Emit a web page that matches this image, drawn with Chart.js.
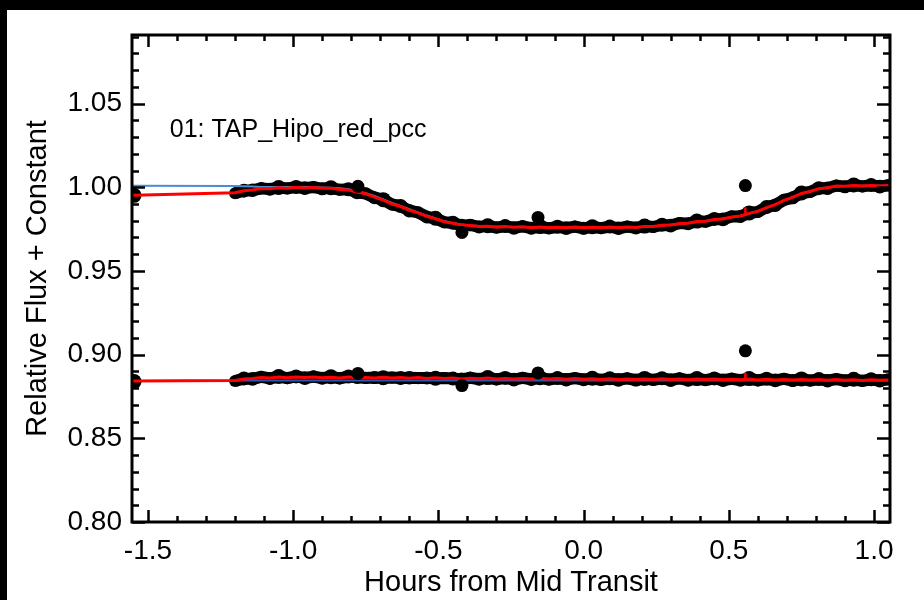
<!DOCTYPE html>
<html>
<head>
<meta charset="utf-8">
<script src="https://cdn.jsdelivr.net/npm/chart.js@4/dist/chart.umd.min.js"></script>
<style>
  body { margin: 0; background: #000; }
  canvas { display: block; }
</style>
</head>
<body>
<canvas id="transitChart" width="924" height="600"></canvas>
<script>
// hours from mid transit (two early frames, then the main run)
const hours = [-1.555, -1.548,
  -1.20, -1.17, -1.14, -1.11, -1.08, -1.05, -1.02, -0.99, -0.96, -0.93, -0.90,
  -0.87, -0.84, -0.81, -0.78, -0.75, -0.72, -0.69, -0.66, -0.63, -0.60,
  -0.57, -0.54, -0.51, -0.48, -0.45, -0.42, -0.39, -0.36, -0.33, -0.30,
  -0.27, -0.24, -0.21, -0.18, -0.15, -0.12, -0.09, -0.06, -0.03, 0.00,
  0.03, 0.06, 0.09, 0.12, 0.15, 0.18, 0.21, 0.24, 0.27, 0.30,
  0.33, 0.36, 0.39, 0.42, 0.45, 0.48, 0.51, 0.54, 0.57, 0.60,
  0.63, 0.66, 0.69, 0.72, 0.75, 0.78, 0.81, 0.84, 0.87, 0.90,
  0.93, 0.96, 0.99, 1.02, 1.05];

// light curve (top) - observed flux
const fluxTop = [0.9948, 0.9952,
  0.9964, 0.9980, 0.9982, 0.9994, 0.9989, 0.9999, 0.9993, 1.0002, 0.9995, 1.0001, 0.9991,
  0.9997, 0.9985, 0.9988, 0.9969, 0.9963, 0.9938, 0.9926, 0.9897, 0.9888, 0.9860,
  0.9850, 0.9823, 0.9815, 0.9791, 0.9788, 0.9771, 0.9775, 0.9763, 0.9770, 0.9759,
  0.9768, 0.9757, 0.9767, 0.9756, 0.9765, 0.9755, 0.9764, 0.9756, 0.9765, 0.9755,
  0.9764, 0.9756, 0.9765, 0.9755, 0.9765, 0.9757, 0.9768, 0.9763, 0.9776, 0.9771,
  0.9786, 0.9782, 0.9798, 0.9794, 0.9811, 0.9808, 0.9826, 0.9826, 0.9847, 0.9853,
  0.9882, 0.9893, 0.9925, 0.9937, 0.9966, 0.9972, 0.9995, 0.9994, 1.0010, 1.0003,
  1.0014, 1.0005, 1.0013, 1.0004, 1.0012];

// red fit incl. systematics (top)
const fitTop = [0.9953, 0.9953,
  0.9968, 0.9979, 0.9984, 0.9992, 0.9991, 0.9997, 0.9995, 1.0000, 0.9996, 0.9999, 0.9994,
  0.9994, 0.9987, 0.9984, 0.9971, 0.9961, 0.9941, 0.9923, 0.9900, 0.9885, 0.9863,
  0.9847, 0.9826, 0.9812, 0.9794, 0.9785, 0.9774, 0.9772, 0.9766, 0.9767, 0.9762,
  0.9765, 0.9761, 0.9764, 0.9759, 0.9763, 0.9758, 0.9761, 0.9759, 0.9762, 0.9758,
  0.9761, 0.9759, 0.9762, 0.9758, 0.9762, 0.9760, 0.9765, 0.9766, 0.9773, 0.9774,
  0.9783, 0.9785, 0.9795, 0.9797, 0.9808, 0.9811, 0.9823, 0.9829, 0.9844, 0.9856,
  0.9879, 0.9896, 0.9922, 0.9940, 0.9963, 0.9975, 0.9992, 0.9997, 1.0007, 1.0006,
  1.0011, 1.0008, 1.0010, 1.0007, 1.0010];

// blue transit model (top)
const modelTop = [1.0009, 1.0009,
  1.0008, 1.0006, 1.0004, 1.0002, 1.0001, 1.0001, 1.0001, 1.0001, 1.0001, 1.0000, 0.9999,
  0.9998, 0.9994, 0.9988, 0.9978, 0.9965, 0.9948, 0.9928, 0.9907, 0.9888, 0.9869,
  0.9850, 0.9831, 0.9814, 0.9798, 0.9786, 0.9777, 0.9771, 0.9768, 0.9766, 0.9764,
  0.9763, 0.9762, 0.9762, 0.9761, 0.9761, 0.9760, 0.9760, 0.9760, 0.9760, 0.9760,
  0.9760, 0.9760, 0.9760, 0.9760, 0.9761, 0.9762, 0.9764, 0.9767, 0.9771, 0.9776,
  0.9781, 0.9787, 0.9793, 0.9799, 0.9806, 0.9813, 0.9821, 0.9830, 0.9842, 0.9858,
  0.9877, 0.9898, 0.9920, 0.9942, 0.9961, 0.9977, 0.9990, 0.9999, 1.0005, 1.0008,
  1.0009, 1.0009, 1.0009, 1.0009, 1.0009];

// residual curve (bottom, offset) - observed flux
const fluxLow = [0.8836, 0.8839,
  0.8842, 0.8857, 0.8855, 0.8867, 0.8858, 0.8869, 0.8859, 0.8870, 0.8860, 0.8869, 0.8859,
  0.8868, 0.8858, 0.8869, 0.8865, 0.8861, 0.8863, 0.8862, 0.8863, 0.8860, 0.8862,
  0.8860, 0.8861, 0.8859, 0.8860, 0.8857, 0.8852, 0.8862, 0.8853, 0.8863, 0.8852,
  0.8861, 0.8851, 0.8861, 0.8852, 0.8862, 0.8851, 0.8860, 0.8850, 0.8860, 0.8850,
  0.8859, 0.8849, 0.8859, 0.8849, 0.8858, 0.8848, 0.8858, 0.8849, 0.8859, 0.8848,
  0.8858, 0.8847, 0.8857, 0.8848, 0.8858, 0.8847, 0.8856, 0.8847, 0.8857, 0.8846,
  0.8856, 0.8846, 0.8855, 0.8845, 0.8855, 0.8845, 0.8854, 0.8844, 0.8854, 0.8844,
  0.8853, 0.8843, 0.8853, 0.8844, 0.8852];

const fitLow = [0.8843, 0.8843,
  0.8846, 0.8854, 0.8858, 0.8864, 0.8861, 0.8866, 0.8862, 0.8867, 0.8863, 0.8866, 0.8862,
  0.8865, 0.8861, 0.8866, 0.8862, 0.8864, 0.8860, 0.8865, 0.8860, 0.8863, 0.8859,
  0.8863, 0.8858, 0.8862, 0.8857, 0.8860, 0.8855, 0.8859, 0.8856, 0.8860, 0.8855,
  0.8858, 0.8854, 0.8858, 0.8855, 0.8859, 0.8854, 0.8857, 0.8853, 0.8857, 0.8853,
  0.8856, 0.8852, 0.8856, 0.8852, 0.8855, 0.8851, 0.8855, 0.8852, 0.8856, 0.8851,
  0.8855, 0.8850, 0.8854, 0.8851, 0.8855, 0.8850, 0.8853, 0.8850, 0.8854, 0.8849,
  0.8853, 0.8849, 0.8852, 0.8848, 0.8852, 0.8848, 0.8851, 0.8847, 0.8851, 0.8847,
  0.8850, 0.8846, 0.8850, 0.8847, 0.8849];

const modelLow = [0.8843, 0.8843,
  0.8844, 0.8845, 0.8845, 0.8845, 0.8845, 0.8845, 0.8845, 0.8845, 0.8845, 0.8845, 0.8845,
  0.8845, 0.8845, 0.8845, 0.8845, 0.8845, 0.8845, 0.8845, 0.8845, 0.8845, 0.8845,
  0.8845, 0.8845, 0.8845, 0.8845, 0.8845, 0.8845, 0.8845, 0.8845, 0.8845, 0.8845,
  0.8845, 0.8845, 0.8845, 0.8845, 0.8845, 0.8845, 0.8845, 0.8845, 0.8845, 0.8845,
  0.8845, 0.8845, 0.8845, 0.8845, 0.8845, 0.8845, 0.8845, 0.8845, 0.8845, 0.8845,
  0.8845, 0.8845, 0.8845, 0.8845, 0.8845, 0.8845, 0.8845, 0.8845, 0.8845, 0.8845,
  0.8845, 0.8845, 0.8845, 0.8845, 0.8845, 0.8845, 0.8845, 0.8845, 0.8845, 0.8845,
  0.8845, 0.8845, 0.8845, 0.8845, 0.8845];

// isolated frames sticking out of the bands
const outlierHours = [-0.777, -0.419, -0.157, 0.557];
const outlierTop = [1.0006, 0.9730, 0.9820, 1.0010];
const outlierLow = [0.8888, 0.8815, 0.8891, 0.9023];

// the fit jumps at the bad frame
const spikeHour = 0.557;
const spikeTop = [0.9836, 0.9880];
const spikeLow = [0.8850, 0.8892];

const xTicks = [-1.5, -1.0, -0.5, 0.0, 0.5, 1.0];
const yTicks = [0.80, 0.85, 0.90, 0.95, 1.00, 1.05];
const panelLabel = '01: TAP_Hipo_red_pcc';

const FONT = "'Liberation Sans', Arial, Helvetica, sans-serif";

function pts(xs, ys) {
    return xs.map((x, i) => ({ x: x, y: ys[i] }));
}

// uneven dot sizes so the dense band gets a ragged edge
const bandRadius = (c) => [6.5, 7.5, 6, 7, 6.8, 6.2][c.dataIndex % 6];

// black page edges, white paper
const paper = {
    id: 'paper',
    beforeDraw(chart) {
        const ctx = chart.ctx;
        ctx.save();
        ctx.fillStyle = '#000';
        ctx.fillRect(0, 0, chart.width, chart.height);
        ctx.fillStyle = '#fff';
        ctx.fillRect(7, 10, chart.width - 7, chart.height - 10);
        ctx.restore();
    }
};

// IDL style box with inward ticks on all four sides + panel label
const frame = {
    id: 'frame',
    afterDraw(chart) {
        const ctx = chart.ctx;
        const a = chart.chartArea;
        const xs = chart.scales.x, ys = chart.scales.y;
        ctx.save();
        ctx.strokeStyle = '#000';
        ctx.lineWidth = 2.5;

        ctx.beginPath();
        for (let i = -16; i <= 11; i++) {
            const v = i / 10;
            if (v < xs.min || v > xs.max) continue;
            const len = (i % 5 === 0) ? 12 : 6;
            const px = Math.round(xs.getPixelForValue(v)) + 0.5;
            ctx.moveTo(px, a.bottom); ctx.lineTo(px, a.bottom - len);
            ctx.moveTo(px, a.top); ctx.lineTo(px, a.top + len);
        }
        for (let i = 80; i <= 109; i++) {
            const v = i / 100;
            if (v < ys.min || v > ys.max) continue;
            const len = (i % 5 === 0) ? 13 : 7;
            const py = Math.round(ys.getPixelForValue(v)) + 0.5;
            ctx.moveTo(a.left, py); ctx.lineTo(a.left + len, py);
            ctx.moveTo(a.right, py); ctx.lineTo(a.right - len, py);
        }
        ctx.stroke();

        ctx.lineWidth = 3;
        ctx.strokeRect(a.left, a.top, a.right - a.left, a.bottom - a.top);

        ctx.fillStyle = '#000';
        ctx.font = '25px ' + FONT;
        ctx.textAlign = 'left';
        ctx.textBaseline = 'middle';
        ctx.fillText(panelLabel, xs.getPixelForValue(-1.425), ys.getPixelForValue(1.034));
        ctx.restore();
    }
};

const ctx = document.getElementById('transitChart').getContext('2d');
const transitChart = new Chart(ctx, {
    type: 'line',
    data: {
        datasets: [
            {
                label: 'outliers top',
                type: 'scatter',
                data: pts(outlierHours, outlierTop),
                pointRadius: 6.5, pointBackgroundColor: '#000', pointBorderWidth: 0,
                showLine: false, order: 0
            },
            {
                label: 'outliers low',
                type: 'scatter',
                data: pts(outlierHours, outlierLow),
                pointRadius: 6.5, pointBackgroundColor: '#000', pointBorderWidth: 0,
                showLine: false, order: 0
            },
            {
                label: 'spike top',
                data: pts([spikeHour, spikeHour], spikeTop),
                borderColor: 'rgb(255,0,0)', borderWidth: 2.5, pointRadius: 0, order: 1
            },
            {
                label: 'spike low',
                data: pts([spikeHour, spikeHour], spikeLow),
                borderColor: 'rgb(255,0,0)', borderWidth: 2.5, pointRadius: 0, order: 1
            },
            {
                label: 'fit top',
                data: pts(hours, fitTop),
                borderColor: 'rgb(255,0,0)', borderWidth: 3, pointRadius: 0, order: 2
            },
            {
                label: 'fit low',
                data: pts(hours, fitLow),
                borderColor: 'rgb(255,0,0)', borderWidth: 3, pointRadius: 0, order: 2
            },
            {
                label: 'model top',
                data: pts(hours, modelTop),
                borderColor: 'rgb(70,140,215)', borderWidth: 2, pointRadius: 0, order: 3
            },
            {
                label: 'model low',
                data: pts(hours, modelLow),
                borderColor: 'rgb(40,90,180)', borderWidth: 2, pointRadius: 0, order: 3
            },
            {
                label: 'flux top',
                data: pts(hours, fluxTop),
                borderColor: '#000', borderWidth: 12, spanGaps: 0.1,
                pointRadius: bandRadius, pointBackgroundColor: '#000', pointBorderWidth: 0, order: 4
            },
            {
                label: 'flux low',
                data: pts(hours, fluxLow),
                borderColor: '#000', borderWidth: 12, spanGaps: 0.1,
                pointRadius: bandRadius, pointBackgroundColor: '#000', pointBorderWidth: 0, order: 4
            }
        ]
    },
    options: {
        responsive: false,
        animation: false,
        layout: { padding: { left: 0, top: 35, right: 34, bottom: 0 } },
        plugins: { legend: { display: false }, tooltip: { enabled: false } },
        scales: {
            x: {
                type: 'linear',
                min: -1.555,
                max: 1.055,
                afterBuildTicks: (s) => { s.ticks = xTicks.map(v => ({ value: v })); },
                afterFit: (s) => { s.height = 78; },
                grid: { display: false, drawTicks: false },
                border: { display: false },
                ticks: {
                    color: '#000', padding: 12, maxRotation: 0, autoSkip: false,
                    font: { family: FONT, size: 28 },
                    callback: (v) => Number(v).toFixed(1)
                },
                title: {
                    display: true, text: 'Hours from Mid Transit', color: '#000',
                    font: { family: FONT, size: 29 }, padding: { top: 0, bottom: 0 }
                }
            },
            y: {
                min: 0.80,
                max: 1.091,
                afterBuildTicks: (s) => { s.ticks = yTicks.map(v => ({ value: v })); },
                afterFit: (s) => { s.width = 132; },
                grid: { display: false, drawTicks: false },
                border: { display: false },
                ticks: {
                    color: '#000', padding: 10,
                    font: { family: FONT, size: 28 },
                    callback: (v) => Number(v).toFixed(2)
                },
                title: {
                    display: true, text: 'Relative Flux + Constant', color: '#000',
                    font: { family: FONT, size: 29 }, padding: { top: 21, bottom: 0 }
                }
            }
        }
    },
    plugins: [paper, frame]
});
</script>
</body>
</html>
